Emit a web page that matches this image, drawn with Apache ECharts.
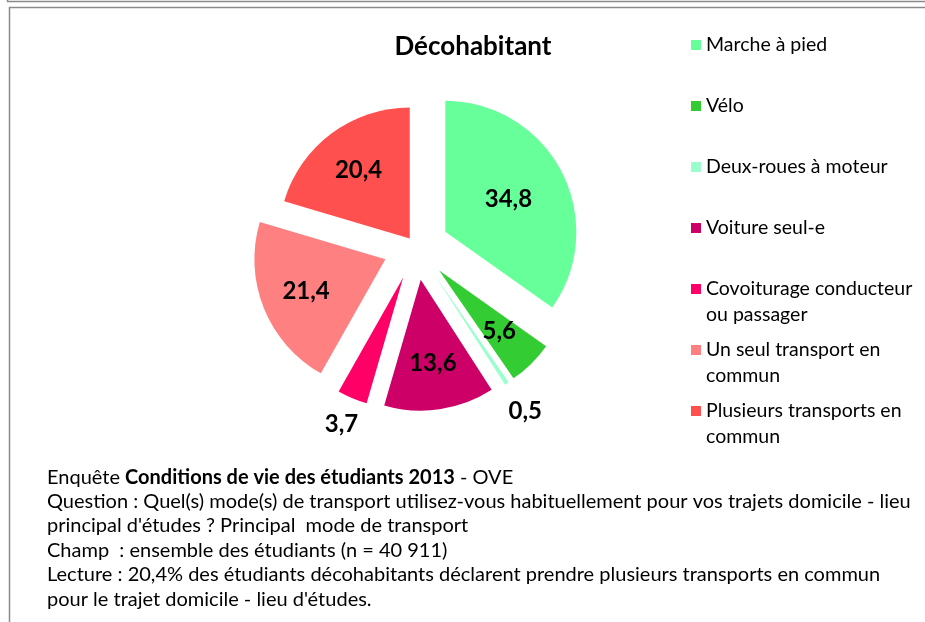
<!DOCTYPE html>
<html><head><meta charset="utf-8">
<script src="https://cdn.jsdelivr.net/npm/echarts@6/dist/echarts.min.js"></script>
<style>html,body{margin:0;padding:0;background:#fff}#c{width:925px;height:622px}</style>
</head><body><div id="c"></div>
<script>
// ---- data ----
const categories = ['Marche à pied', 'Vélo', 'Deux-roues à moteur', 'Voiture seul-e',
  'Covoiturage conducteur ou passager', 'Un seul transport en commun', 'Plusieurs transports en commun'];
const values = [34.8, 5.6, 0.5, 13.6, 3.7, 21.4, 20.4];
const legendLabels = ['Marche à pied', 'Vélo', 'Deux-roues à moteur', 'Voiture seul-e',
  'Covoiturage conducteur\nou passager', 'Un seul transport en\ncommun', 'Plusieurs transports en\ncommun'];
const titleText = 'Décohabitant';
const noteBold = 'Conditions de vie des étudiants 2013';
const noteLines = [
  'Question : Quel(s) mode(s) de transport utilisez-vous habituellement pour vos trajets domicile - lieu',
  "principal d'études ? Principal  mode de transport",
  'Champ  : ensemble des étudiants (n = 40 911)',
  'Lecture : 20,4% des étudiants décohabitants déclarent prendre plusieurs transports en commun',
  "pour le trajet domicile - lieu d'études."
];

// ---- styles ----
const colors = ['#66FF99', '#33CC33', '#99FFCC', '#CC0066', '#FF0066', '#FF8080', '#FF5050'];
const explode = [33, 33, 33, 33, 33, 33, 10.5];
const labelRadius = [0.52, 0.63, 1.23, 0.62, 1.19, 0.63, 0.63];
const R = 131;
const CENTER = [416, 247];
const FONT = 'Lato, "Open Sans", sans-serif';

const total = values.reduce((a, b) => a + b, 0);
const mid = [];
let cum = 0;
values.forEach(v => { mid.push((cum + v / 2) / total * 2 * Math.PI); cum += v; });
const fmt = v => v.toFixed(1).replace('.', ',');

const groups = [...new Set(explode)];
const series = groups.map(off => ({
  type: 'pie',
  center: CENTER,
  radius: R,
  startAngle: 90,
  clockwise: true,
  selectedMode: 'multiple',
  selectedOffset: off,
  avoidLabelOverlap: false,
  animation: false,
  emphasis: { disabled: true },
  labelLine: { show: false },
  label: {
    show: true, position: 'inside', color: '#000', fontFamily: FONT,
    fontWeight: 'bold', fontSize: 24,
    formatter: p => fmt(p.value)
  },
  labelLayout: p => {
    const i = p.dataIndex, th = mid[i];
    const dr = (labelRadius[i] - 0.5) * R;
    return { dx: dr * Math.sin(th), dy: -dr * Math.cos(th) };
  },
  data: categories.map((c, i) => explode[i] === off
    ? { name: c, value: values[i], selected: true, itemStyle: { color: colors[i] } }
    : { name: '_' + i, value: values[i], itemStyle: { color: 'rgba(0,0,0,0)' },
        label: { show: false }, tooltip: { show: false } })
}));

const chart = echarts.init(document.getElementById('c'));
chart.setOption({
  backgroundColor: '#fff',
  color: colors,
  title: {
    text: titleText, left: 473, top: 34, textAlign: 'center', padding: 0,
    textStyle: { fontFamily: FONT, fontWeight: 'bold', fontSize: 26, color: '#000' }
  },
  legend: {
    orient: 'vertical', left: 691, top: 6, padding: 0,
    itemWidth: 10, itemHeight: 10, itemGap: -17,
    icon: 'rect',
    selectedMode: false,
    // blank first line + text lines; first text line sits on the marker
    formatter: name => {
      const t = legendLabels[categories.indexOf(name)];
      return '\n' + t + (t.indexOf('\n') >= 0 ? '' : '\n');
    },
    textStyle: { fontFamily: FONT, fontSize: 19.5, color: '#000', lineHeight: 26 },
    data: categories
  },
  graphic: [
    { type: 'line', shape: { x1: 7, y1: 1.5, x2: 925, y2: 1.5 }, style: { stroke: '#8a8a8a', lineWidth: 1.5 } },
    { type: 'line', shape: { x1: 7.5, y1: 0, x2: 7.5, y2: 2 }, style: { stroke: '#8a8a8a', lineWidth: 1.5 } },
    { type: 'rect', shape: { x: 9.5, y: 7.5, width: 1000, height: 700 },
      style: { fill: 'none', stroke: '#8a8a8a', lineWidth: 1.5 } },
    { type: 'text', left: 47, top: 465,
      style: {
        text: 'Enquête {b|' + noteBold + '} - OVE\n' + noteLines.join('\n'),
        fontFamily: FONT, fontSize: 20, lineHeight: 24.4, fill: '#000',
        rich: { b: { fontFamily: FONT, fontWeight: 'bold', fontSize: 20, lineHeight: 24.4, fill: '#000' } }
      } }
  ],
  series: series
});
</script></body></html>
